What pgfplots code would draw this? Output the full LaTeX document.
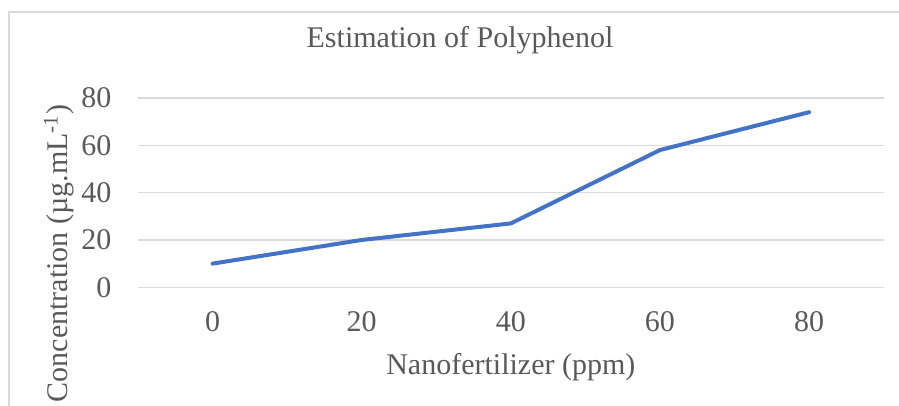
\documentclass[border=0pt]{standalone}
\usepackage{fontspec}
\setmainfont{Liberation Serif}
\usepackage{pgfplots}
\pgfplotsset{compat=1.18}
\definecolor{textgray}{HTML}{595959}
\definecolor{gridgray}{HTML}{D9D9D9}
\definecolor{lineblue}{HTML}{4472C4}
\begin{document}
\begin{tikzpicture}
\useasboundingbox (0,0) rectangle (449.5pt,203pt);
\draw[gridgray, line width=0.6pt] (4.5pt,-10pt) -- (4.5pt,197pt) -- (470pt,197pt);
\begin{axis}[
  at={(69pt,59.35pt)}, anchor=south west,
  scale only axis,
  width=372.85pt, height=94.65pt,
  xmin=-0.5, xmax=4.5, ymin=0, ymax=80,
  xtick={0,1,2,3,4}, xticklabels={0,20,40,60,80},
  ytick={0,20,40,60,80},
  axis line style={draw=none},
  major tick length=0pt,
  ymajorgrids,
  grid style={gridgray, line width=0.65pt},
  /pgf/number format/assume math mode=true,
  font=\fontsize{15}{18}\selectfont,
  xticklabel style={anchor=base, inner sep=0pt, yshift=-22.2pt, text=textgray, font=\fontsize{15}{18}\selectfont},
  yticklabel style={anchor=east, inner sep=0pt, xshift=-13.15pt, text=textgray, font=\fontsize{15}{18}\selectfont},
  title={Estimation of Polyphenol},
  title style={at={(axis description cs:0.4318,1)}, anchor=base, inner sep=0pt, yshift=19.35pt, text=textgray, font=\fontsize{15}{18}\selectfont},
  xlabel={Nanofertilizer (ppm)},
  xlabel style={at={(axis description cs:0.5,0)}, anchor=base, inner sep=0pt, yshift=-43.85pt, text=textgray, font=\fontsize{15}{18}\selectfont},
  ylabel={Concentration (µg.mL\textsuperscript{-1})},
  ylabel style={at={(axis description cs:-0.0939,0.1786)}, anchor=base, inner sep=0pt, rotate=0, text=textgray, font=\fontsize{15}{18}\selectfont},
]
\addplot[lineblue, line width=2pt, line cap=round, line join=round, mark=none] coordinates {
  (0,10) (1,20) (2,27) (3,58) (4,74)
};
\end{axis}
\end{tikzpicture}
\end{document}
